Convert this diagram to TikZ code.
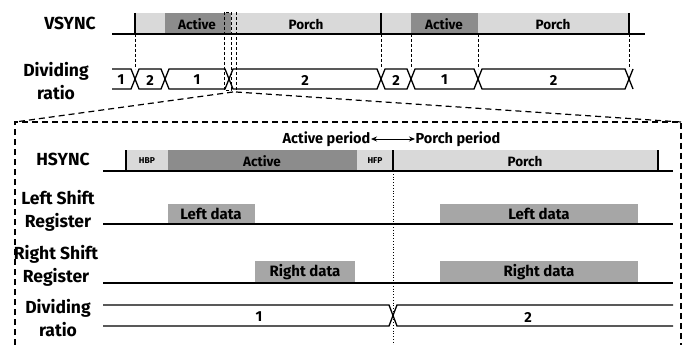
\documentclass[tikz,border=0pt]{standalone}
\usepackage{fontspec}
\setmainfont{Fira Sans}
\usetikzlibrary{arrows.meta,positioning}
\definecolor{porchgray}{RGB}{217,217,217}
\definecolor{activegray}{RGB}{140,140,140}
\definecolor{datagray}{RGB}{166,166,166}

\begin{document}
\begin{tikzpicture}[x=1pt,y=-1pt,line width=1.3pt,
  lab/.style={font=\fontsize{17.5}{23.5}\selectfont\bfseries,align=center,inner sep=0pt},
  bartxt/.style={font=\fontsize{13.5}{15}\selectfont\bfseries,inner sep=0pt},
  smalltxt/.style={font=\fontsize{8.5}{10}\selectfont\bfseries,inner sep=0pt},
  datatxt/.style={font=\fontsize{15}{16}\selectfont\bfseries,inner sep=0pt},
  num/.style={font=\fontsize{14.5}{16}\selectfont\bfseries,inner sep=0pt},
  vdash/.style={line width=0.9pt,dash pattern=on 3pt off 2pt},
  boxdash/.style={line width=1.2pt,dash pattern=on 6pt off 4pt}]
  \useasboundingbox (0,0) rectangle (686,345);

  % VSYNC
  \node[lab] (vs) at (70,23) {VSYNC};
  \fill[porchgray] (135,13) rectangle (629,34);
  \fill[activegray] (165,13) rectangle (231,34);
  \fill[activegray] (411,13) rectangle (478,34);
  \draw (112,34) -- (645,34);
  \foreach \x in {135,381,629}
    \draw (\x,13) -- (\x,34);
  \node[bartxt] (va1) at (197,24) {Active};
  \node[bartxt] (vp1) at (306,24) {Porch};
  \node[bartxt] (va2) at (444,24) {Active};
  \node[bartxt] (vp2) at (553,24) {Porch};

  % dividing ratio (frame)
  \node[lab] (dr) at (56,81) {Dividing\\ratio};
  \draw (112,69) -- (131,69) -- (135,79) -- (131,89) -- (112,89);
  \node[num] (d0) at (121,80) {1};
  \foreach \a/\b/\n in {135/165/2,165/229/1,229/381/2,381/411/2,411/478/1,478/629/2} {
    \draw (\a,79) -- (\a+4,69) -- (\b-4,69) -- (\b,79) -- (\b-4,89) -- (\a+4,89) -- cycle;
    \node[num] (d\a) at ({(\a+\b)/2},80) {\n};
  }
  \draw (629,79) -- (633,69) (629,79) -- (633,89);
  \foreach \x in {135,381,411,478,629}
    \draw[vdash] (\x,34) -- (\x,69);

  % zoomed part
  \draw[vdash] (224,12) rectangle (231,90);
  \draw[vdash] (236,12) -- (236,92);
  \coordinate (zl) at (233,92);
  \coordinate (zr) at (236,92);
  \coordinate (bl) at (15,122);
  \coordinate (br) at (681,122);
  \draw[boxdash] (zl) -- (bl);
  \draw[boxdash] (zr) -- (br);
  \draw[boxdash] (15,345) -- (bl) -- (br) -- (681,345);

  % HSYNC
  \node[lab] (hs) at (63,159) {HSYNC};
  \fill[porchgray] (126,150) rectangle (658,171);
  \fill[activegray] (168,150) rectangle (357,171);
  \draw (103,171) -- (673,171);
  \foreach \x in {126,393,658}
    \draw (\x,150) -- (\x,171);
  \node[smalltxt] (hbp) at (147,161) {HBP};
  \node[bartxt] (ha) at (262,161) {Active};
  \node[smalltxt] (hfp) at (375,161) {HFP};
  \node[bartxt] (hp) at (525,161) {Porch};

  \node[num,font=\fontsize{14.5}{16}\selectfont\bfseries,anchor=east] (ap) at (371,139) {Active period};
  \node[num,font=\fontsize{14.5}{16}\selectfont\bfseries,anchor=west] (pp) at (415,139) {Porch period};
  \draw[{Stealth[length=6pt,width=5pt]}-{Stealth[length=6pt,width=5pt]},line width=0.8pt] (ap) -- (pp);

  % shift registers
  \node[lab] (lsr) at (58,211) {Left Shift\\Register};
  \fill[datagray] (168,204) rectangle (255,224);
  \fill[datagray] (440,204) rectangle (638,224);
  \draw (103,224) -- (673,224);
  \node[datatxt] (ld1) at (211,214) {Left data};
  \node[datatxt] (ld2) at (539,214) {Left data};

  \node[lab] (rsr) at (56,266) {Right Shift\\Register};
  \fill[datagray] (255,261) rectangle (355,283);
  \fill[datagray] (440,261) rectangle (638,283);
  \draw (103,283) -- (673,283);
  \node[datatxt] (rd1) at (305,272) {Right data};
  \node[datatxt] (rd2) at (539,272) {Right data};

  % dividing ratio (line)
  \node[lab] (dr2) at (58,318) {Dividing\\ratio};
  \draw (103,305) -- (389,305) -- (393,315.5) -- (389,326) -- (103,326);
  \draw (673,305) -- (397,305) -- (393,315.5) -- (397,326) -- (673,326);
  \node[num] (n1) at (259,317) {1};
  \node[num] (n2) at (528,317) {2};
  \draw[dotted,line width=0.8pt] (393,171) -- (393,345);
\end{tikzpicture}
\end{document}
